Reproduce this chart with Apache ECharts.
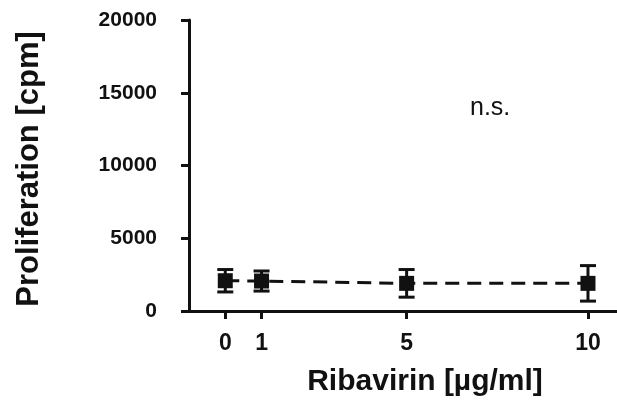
<!DOCTYPE html>
<html><head><meta charset="utf-8">
<script src="https://cdn.jsdelivr.net/npm/echarts@6/dist/echarts.min.js"></script>
<style>html,body{margin:0;padding:0;background:#fff}#c{width:617px;height:401px}</style>
</head><body><div id="c"></div>
<script>
var doses = [0, 1, 5, 10];
var means = [2080, 2060, 1900, 1900];
var errs = [770, 690, 950, 1220];
var xTicks = [0, 1, 5, 10];
var yTicks = [0, 5000, 10000, 15000, 20000];

var chart = echarts.init(document.getElementById('c'));
var F = '"Liberation Sans", Arial, sans-serif';
var pts = doses.map(function (d, i) { return [d, means[i]]; });
var errData = doses.map(function (d, i) { return [d, means[i] - errs[i], means[i] + errs[i]]; });
chart.setOption({
  animation: false,
  grid: { left: 189, top: 20, right: 0, bottom: 90, outerBoundsMode: 'none', containLabel: false },
  xAxis: {
    type: 'value', min: -1, max: 10.8,
    name: 'Ribavirin [µg/ml]', nameLocation: 'middle', nameGap: 56,
    nameTextStyle: { fontFamily: F, fontWeight: 'bold', fontSize: 30, color: '#111', padding: [0, 0, 0, 44] },
    axisLine: { show: true, onZero: false, lineStyle: { color: '#111', width: 3 } },
    axisTick: { show: true, customValues: xTicks, length: 8, lineStyle: { color: '#111', width: 3 } },
    axisLabel: { customValues: xTicks, margin: 21, fontFamily: F, fontWeight: 'bold', fontSize: 23, color: '#111' },
    splitLine: { show: false }
  },
  yAxis: {
    type: 'value', min: 0, max: 20000, interval: 5000,
    name: 'Proliferation [cpm]', nameLocation: 'middle', nameGap: 144,
    nameTextStyle: { fontFamily: F, fontWeight: 'bold', fontSize: 31, color: '#111', padding: [0, 7, 0, 0] },
    axisLine: { show: true, onZero: false, lineStyle: { color: '#111', width: 3 } },
    axisTick: { show: true, length: 8, lineStyle: { color: '#111', width: 3 } },
    axisLabel: {
      margin: 32, fontFamily: F, fontWeight: 'bold', fontSize: 21, color: '#111',
      formatter: function (v) { return String(v); }
    },
    splitLine: { show: false }
  },
  series: [
    {
      type: 'line', data: pts, symbol: 'rect', symbolSize: 15,
      itemStyle: { color: '#111' },
      lineStyle: { color: '#111', width: 3, type: [14, 8] },
      z: 3
    },
    {
      type: 'custom', data: errData, z: 4,
      renderItem: function (params, api) {
        var x = api.value(0);
        var lo = api.coord([x, api.value(1)]);
        var hi = api.coord([x, api.value(2)]);
        var w = 8;
        var st = { stroke: '#111', lineWidth: 3 };
        return { type: 'group', children: [
          { type: 'line', shape: { x1: lo[0], y1: lo[1], x2: hi[0], y2: hi[1] }, style: st },
          { type: 'line', shape: { x1: lo[0] - w, y1: lo[1], x2: lo[0] + w, y2: lo[1] }, style: st },
          { type: 'line', shape: { x1: hi[0] - w, y1: hi[1], x2: hi[0] + w, y2: hi[1] }, style: st }
        ]};
      }
    }
  ],
  graphic: [
    { type: 'text', left: 470, top: 96, style: { text: 'n.s.', fontFamily: F, fontSize: 25, fill: '#111' } }
  ]
});
</script></body></html>
